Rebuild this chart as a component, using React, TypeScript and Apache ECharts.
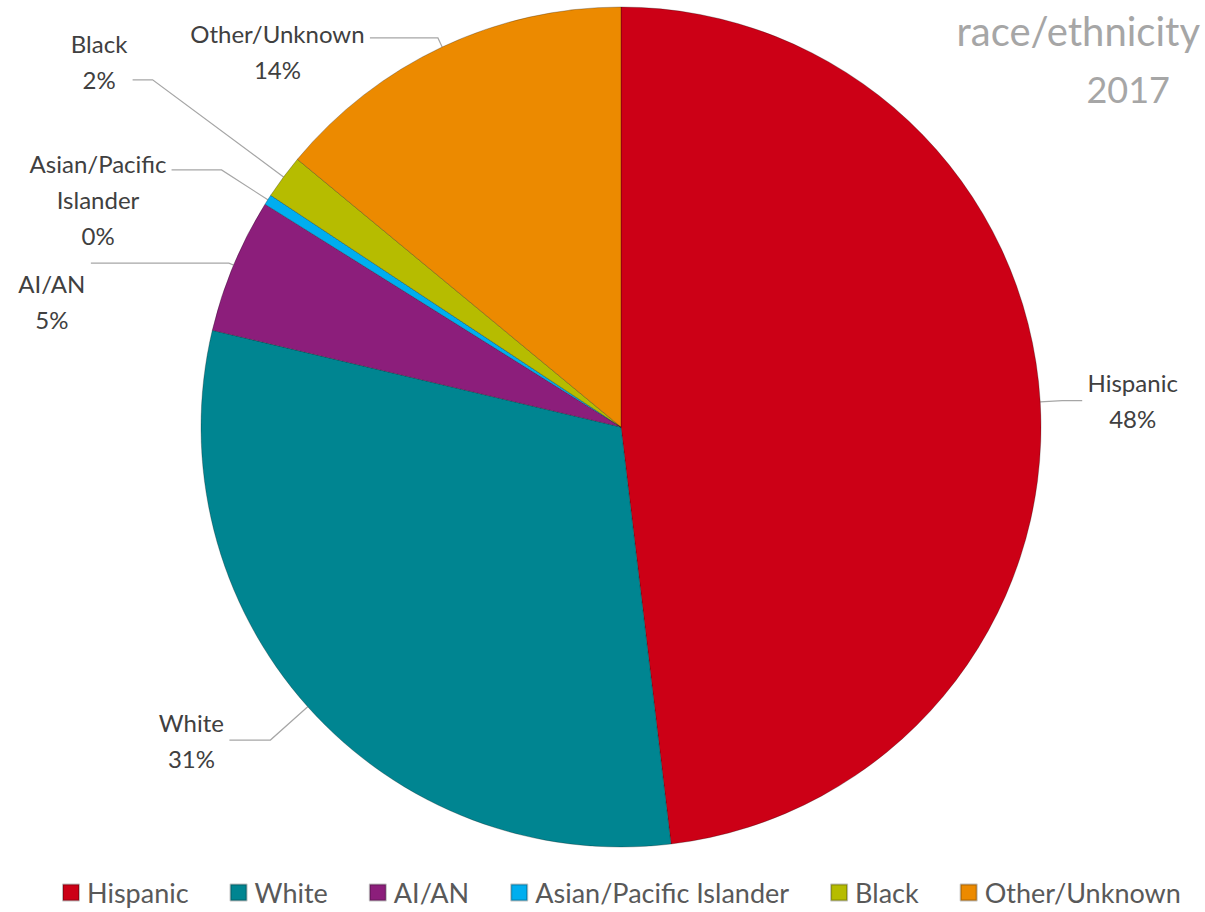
import React, { useEffect, useRef } from "react";
import * as echarts from "echarts";

const categories = ["Hispanic", "White", "AI/AN", "Asian/Pacific Islander", "Black", "Other/Unknown"];
const values = [48.1, 30.6, 5.2, 0.4, 1.7, 14.0];
const colors = ["#CC0016", "#008591", "#8C1E7B", "#00AEEF", "#B6BC00", "#EC8A00"];
const titleLines = ["race/ethnicity", "2017"];

const LABEL_FONT = "Lato";
const LABEL_SIZE = 24;
const LINE_H = 36;

// leader-line styling per slice: [radial length, horizontal length, text shift below the line end]
const leaderStyle: Record<string, [number, number, number]> = {
  Hispanic: [22, 20, 0],
  White: [50, 41, 0],
  "AI/AN": [5, 138, 38],
  "Asian/Pacific Islander": [55, 50, 30],
  Black: [163, 20, -18],
  "Other/Unknown": [10, 68, 14],
};

function splitName(name: string): string[] {
  if (name.length > 16) {
    const i = name.lastIndexOf(" ");
    return [name.slice(0, i), name.slice(i + 1)];
  }
  return [name];
}

function measure(text: string): number {
  const c = document.createElement("canvas").getContext("2d");
  if (!c) return text.length * 12;
  c.font = `${LABEL_SIZE}px ${LABEL_FONT}`;
  return Math.ceil(c.measureText(text).width);
}

export default function App() {
  const ref = useRef<HTMLDivElement>(null);
  useEffect(() => {
    document.body.style.margin = "0";
    if (!ref.current) return;
    const chart = echarts.init(ref.current, undefined, { renderer: "svg" });
    const total = values.reduce((a, b) => a + b, 0);
    const data = categories.map((name, i) => {
      const lines = [...splitName(name), `${Math.round((values[i] / total) * 100)}%`];
      const w = Math.max(...lines.map(measure)) + 2;
      const [l1, l2, shift] = leaderStyle[name];
      const padding = shift >= 0 ? [2 * shift, 0, 0, 0] : [0, 0, -2 * shift, 0];
      return {
        name,
        value: values[i],
        itemStyle: { color: colors[i] },
        labelLine: { length: l1, length2: l2 },
        label: {
          padding,
          formatter: lines.map((l) => `{c|${l}}`).join("\n"),
          rich: {
            c: {
              width: w,
              align: "center",
              fontSize: LABEL_SIZE,
              fontFamily: LABEL_FONT,
              color: "#404040",
              lineHeight: LINE_H,
            },
          },
        },
      };
    });
    chart.setOption({
      animation: false,
      backgroundColor: "#ffffff",
      title: [
        {
          text: titleLines[0],
          right: 0,
          top: 6,
          textStyle: { fontFamily: LABEL_FONT, fontSize: 40, fontWeight: "normal", color: "#A6A6A6" },
        },
        {
          text: titleLines[1],
          right: 30,
          top: 66,
          textStyle: { fontFamily: LABEL_FONT, fontSize: 36, fontWeight: "normal", color: "#A6A6A6" },
        },
      ],
      legend: {
        top: 874,
        left: 57,
        padding: 5,
        icon: "rect",
        itemWidth: 16,
        itemHeight: 16,
        itemGap: 41,
        textStyle: { fontFamily: LABEL_FONT, fontSize: 27, color: "#595959", padding: [0, 0, 0, 3] },
        data: categories,
      },
      series: [
        {
          type: "pie",
          center: [621, 427],
          radius: 420,
          startAngle: 90,
          clockwise: true,
          avoidLabelOverlap: false,
          itemStyle: { borderColor: "rgba(0,0,0,0.25)", borderWidth: 1 },
          label: { show: true, position: "outside", distanceToLabelLine: 4 },
          labelLine: { show: true, lineStyle: { color: "#A6A6A6", width: 1.2 } },
          data,
        },
      ],
    });
    return () => chart.dispose();
  }, []);
  return <div ref={ref} style={{ width: 1205, height: 912 }} />;
}
